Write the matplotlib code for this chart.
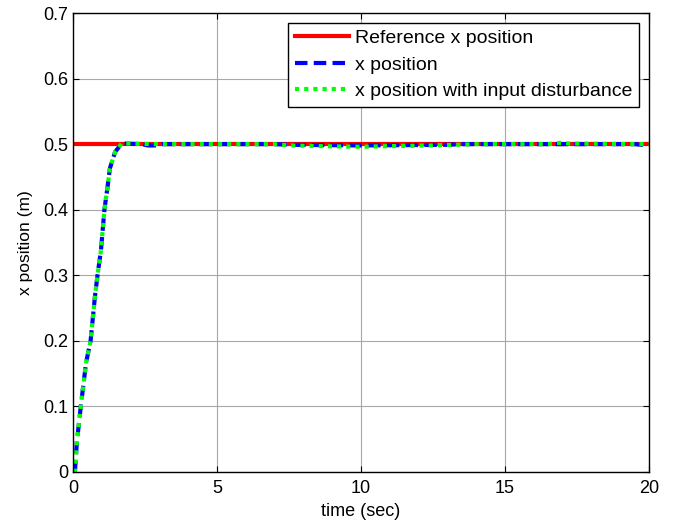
import matplotlib
matplotlib.use("Agg")

import numpy as np
import matplotlib.pyplot as plt

plt.rcParams["font.family"] = ["Liberation Sans", "DejaVu Sans"]

# reference step
t_ref = [0, 20]
x_ref = [0.5, 0.5]

# x position response
t_pos = [0.0, 0.07, 0.13, 0.27, 0.45, 0.61, 0.76, 0.85, 0.97, 1.09, 1.20,
         1.28, 1.46, 1.69, 2.4, 2.6, 2.85, 3.1, 7.0, 7.5, 10.0, 13.0, 13.5,
         16.0, 19.5, 20.0]
x_pos = [0.0, 0.003, 0.044, 0.10, 0.166, 0.20, 0.267, 0.30, 0.338, 0.40, 0.435,
         0.463, 0.488, 0.501, 0.500, 0.498, 0.498, 0.500, 0.500, 0.499, 0.498,
         0.499, 0.500, 0.500, 0.500, 0.498]

# x position with input disturbance
t_dis = [0.0, 0.07, 0.13, 0.27, 0.45, 0.61, 0.76, 0.85, 0.97, 1.09, 1.20,
         1.28, 1.46, 1.69, 3.0, 7.0, 7.5, 8.5, 10.0, 11.0, 12.5, 13.3, 14.0,
         16.5, 16.9, 17.2, 19.5, 20.0]
x_dis = [0.0, 0.003, 0.044, 0.10, 0.166, 0.20, 0.267, 0.30, 0.338, 0.40, 0.435,
         0.463, 0.488, 0.501, 0.500, 0.500, 0.498, 0.497, 0.496, 0.497, 0.498,
         0.499, 0.500, 0.500, 0.502, 0.501, 0.500, 0.500]

fig = plt.figure(figsize=(6.73, 5.29), dpi=100)
ax = fig.add_axes([0.1085, 0.1078, 0.8558, 0.8676])

ax.plot(t_ref, x_ref, color="#ff0000", linewidth=3, label="Reference x position")
ax.plot(t_pos, x_pos, color="#0000ff", linewidth=3, linestyle=(0, (3, 1.5)),
        label="x position")
ax.plot(t_dis, x_dis, color="#00ff00", linewidth=3, linestyle=(0, (1, 1.2)),
        label="x position with input disturbance")

ax.set_xlim(0, 20)
ax.set_ylim(0, 0.7)
ax.set_xticks([0, 5, 10, 15, 20])
ax.set_yticks(np.arange(0, 0.71, 0.1))
ax.set_yticklabels(["0", "0.1", "0.2", "0.3", "0.4", "0.5", "0.6", "0.7"])
ax.grid(True, color="#a8a8a8", linewidth=0.8)
ax.tick_params(direction="in", top=True, right=True, labelsize=13, length=4)
ax.tick_params(axis="x", pad=6)
for s in ax.spines.values():
    s.set_linewidth(1.0)

ax.set_xlabel("time (sec)", fontsize=13, labelpad=4)
ax.set_ylabel("x position (m)", fontsize=12.5, labelpad=7)

leg = ax.legend(loc="upper right", fontsize=14, handlelength=2.8,
                fancybox=False, framealpha=1, edgecolor="black",
                borderaxespad=0.5, labelspacing=0.45, handletextpad=0.3,
                borderpad=0.35)
leg.get_frame().set_linewidth(1.0)

fig.savefig("out.png", dpi=100)
